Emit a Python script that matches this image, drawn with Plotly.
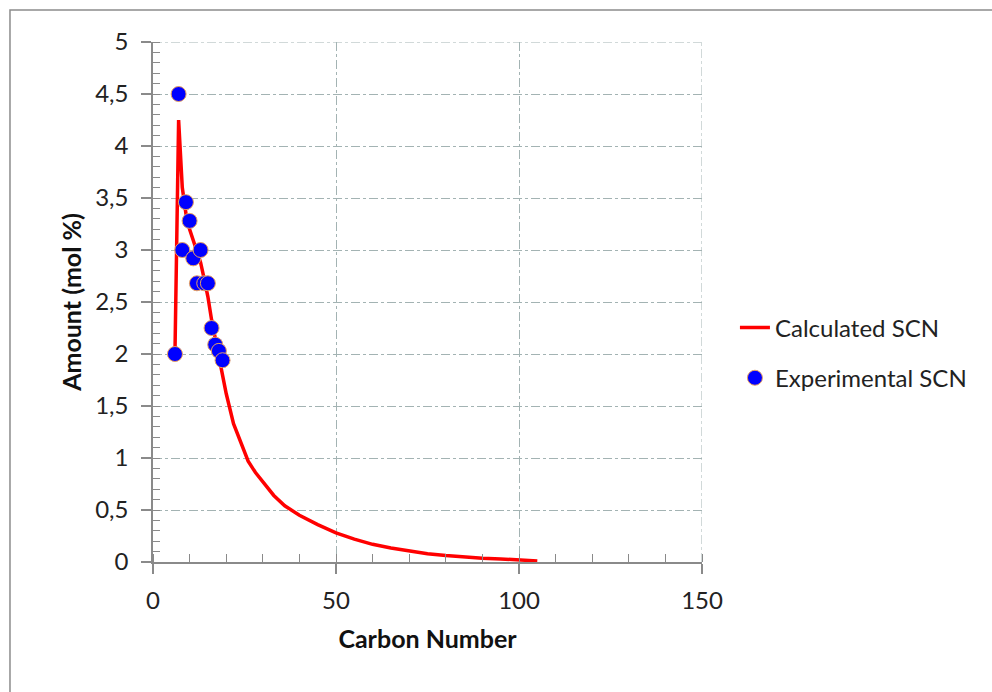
import plotly.graph_objects as go

# Calculated SCN distribution
calc_cn = [6, 7, 8, 9, 10, 11, 12, 13, 14, 15, 16, 17, 18, 19, 20, 22, 24, 26, 28, 30,
           33, 36, 40, 45, 50, 55, 60, 65, 70, 75, 80, 85, 90, 95, 100, 105]
calc_amount = [2.0, 4.25, 3.6, 3.35, 3.2, 3.1, 3.0, 2.88, 2.72, 2.55, 2.33, 2.15, 1.98, 1.8,
               1.62, 1.33, 1.15, 0.97, 0.86, 0.77, 0.64, 0.54, 0.45, 0.36, 0.28, 0.22,
               0.17, 0.135, 0.105, 0.08, 0.062, 0.048, 0.037, 0.03, 0.024, 0.01]

# Experimental SCN points
exp_cn = [6, 7, 8, 9, 10, 11, 12, 13, 14, 15, 16, 17, 18, 19]
exp_amount = [2.0, 4.5, 3.0, 3.46, 3.28, 2.92, 2.68, 3.0, 2.68, 2.68, 2.25, 2.09, 2.03, 1.94]

X_RANGE = [0, 150]
Y_RANGE = [0, 5]

FONT = "Lato"
GRID = "#a3b3b3"
AXIS = "#8a8a8a"

fig = go.Figure()
fig.add_trace(go.Scatter(
    x=calc_cn, y=calc_amount, mode="lines", name="Calculated SCN",
    line=dict(color="#FF0000", width=3.5), legendgroup="a"))
fig.add_trace(go.Scatter(
    x=exp_cn, y=exp_amount, mode="markers", name="Experimental SCN",
    marker=dict(color="#0000FF", size=15, line=dict(color="#E8A060", width=1)),
    legendgroup="b"))

axis_common = dict(
    showline=True, linecolor=AXIS, linewidth=1.5,
    ticks="outside", ticklen=10, tickcolor=AXIS, tickwidth=1.5,
    showgrid=True, gridcolor=GRID, griddash="dashdot", gridwidth=1,
    zeroline=False,
    tickfont=dict(family=FONT, size=24, color="#222222"),
)

fig.update_xaxes(
    range=X_RANGE, dtick=50, tick0=0, ticklabelstandoff=6,
    minor=dict(ticks="inside", dtick=10, ticklen=8, tickcolor=AXIS, tickwidth=1.2, showgrid=False),
    title=dict(text="<b>Carbon Number</b>", font=dict(family=FONT, size=25, color="#111111"), standoff=18),
    **axis_common)
fig.update_yaxes(
    range=Y_RANGE, dtick=0.5, tick0=0, ticklabelstandoff=8,
    minor=dict(ticks="inside", dtick=0.1, ticklen=7, tickcolor=AXIS, tickwidth=1.2, showgrid=False),
    title=dict(text="<b>Amount (mol %)</b>", font=dict(family=FONT, size=25, color="#111111"), standoff=6),
    **axis_common)

fig.update_layout(
    width=992, height=692,
    margin=dict(l=153, r=290, t=42, b=130),
    paper_bgcolor="white", plot_bgcolor="white",
    separators=", ",
    showlegend=True,
    legend=dict(x=1.06, y=0.402, xanchor="left", yanchor="middle",
                font=dict(family=FONT, size=24, color="#222222"),
                traceorder="grouped", tracegroupgap=16,
                bgcolor="rgba(0,0,0,0)"),
    shapes=[
        dict(type="rect", xref="paper", yref="paper",
             x0=-0.2605, y0=-0.6, x1=1.7, y1=1.0615,
             line=dict(color="#8c8c8c", width=1.5), layer="below"),
        # grid lines at the far ends of the axes
        dict(type="line", xref="paper", yref="y", x0=0, x1=1, y0=Y_RANGE[1], y1=Y_RANGE[1],
             line=dict(color=GRID, width=1, dash="dashdot"), layer="below"),
        dict(type="line", xref="x", yref="paper", x0=X_RANGE[1], x1=X_RANGE[1], y0=0, y1=1,
             line=dict(color=GRID, width=1, dash="dashdot"), layer="below"),
    ],
)

fig.write_html("out.html")
